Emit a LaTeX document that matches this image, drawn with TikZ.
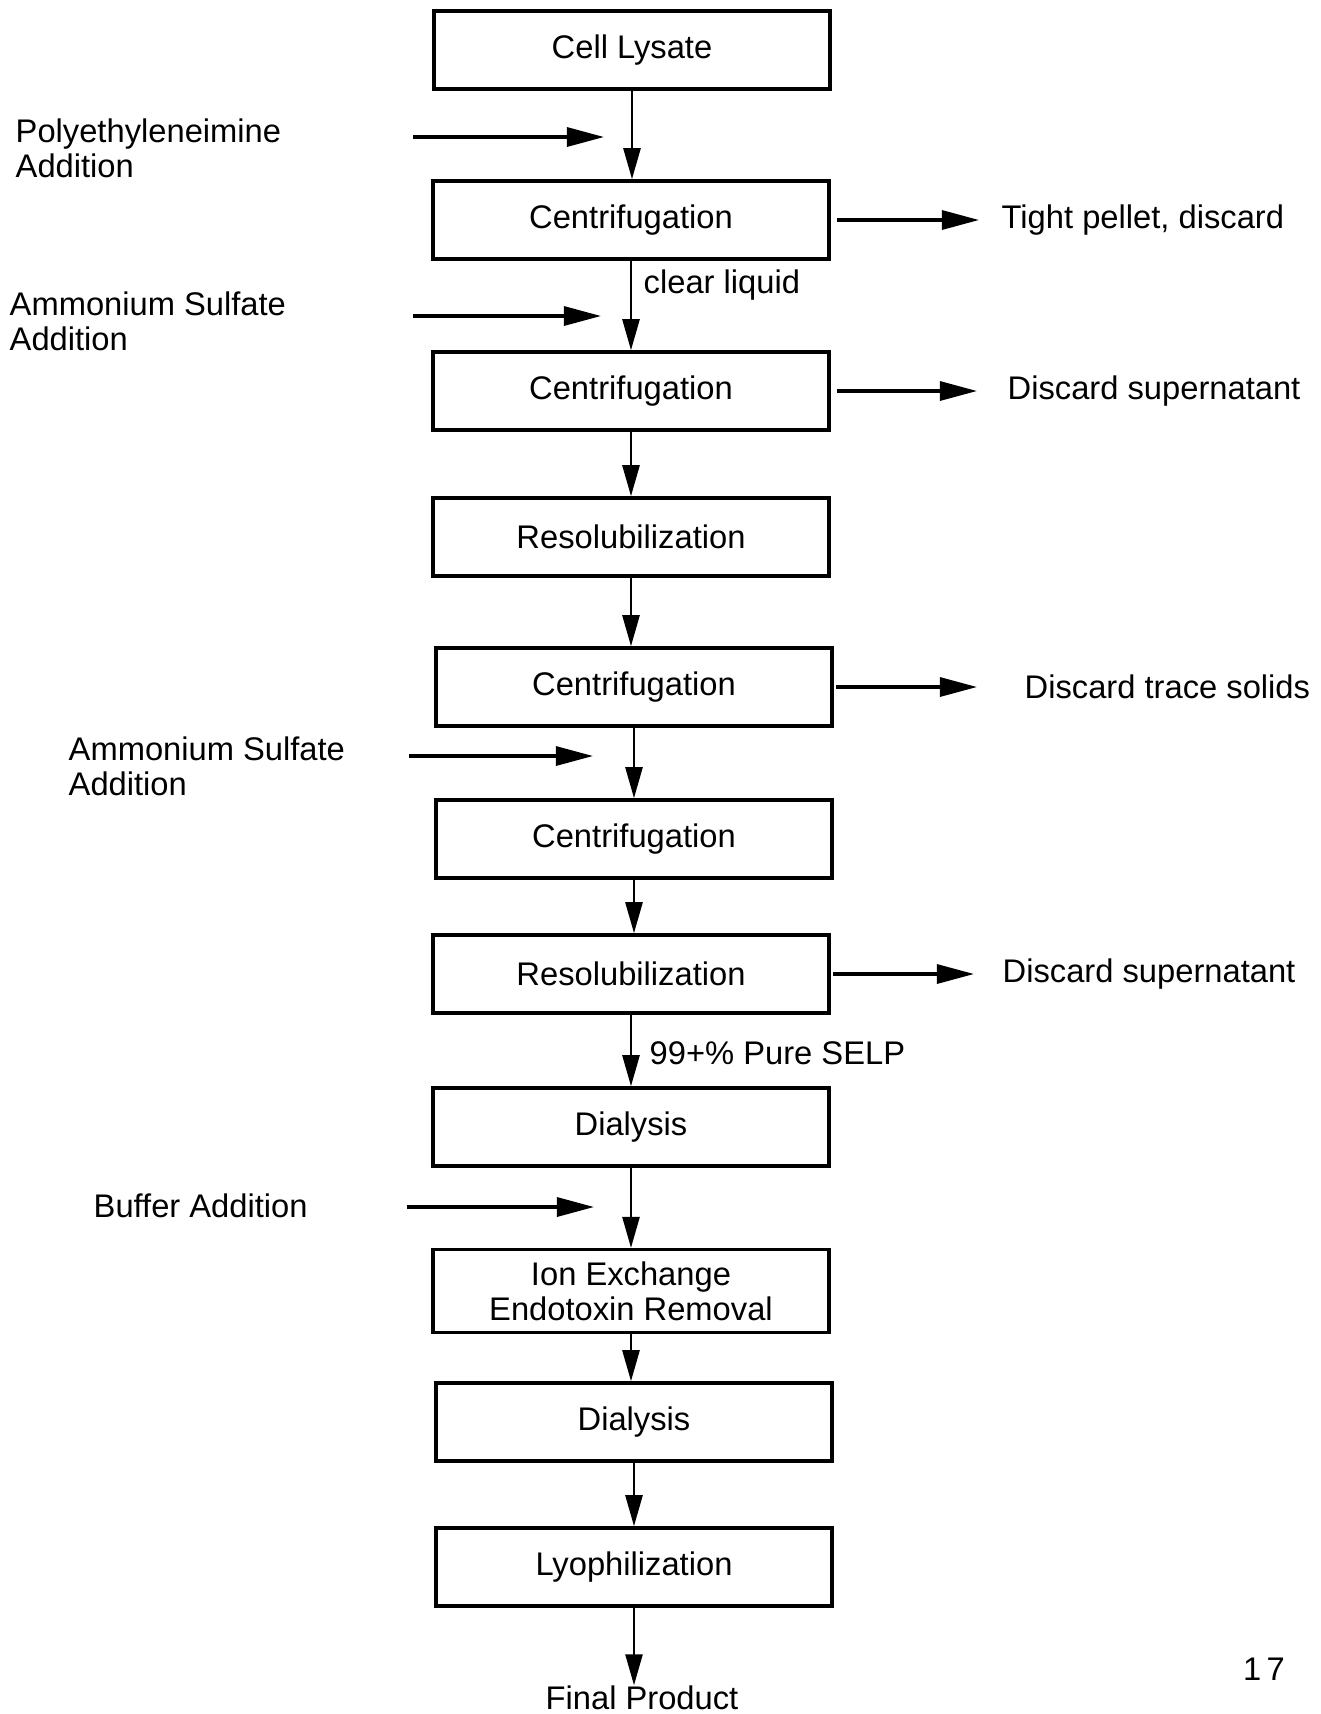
\documentclass[tikz,border=0pt]{standalone}
\usepackage{fontspec}
\setmainfont{Liberation Sans}
\usetikzlibrary{arrows.meta}
\begin{document}
\begin{tikzpicture}[x=0.01cm,y=-0.01cm,
  box/.style={draw,line width=1pt,minimum width=3.96cm,minimum height=0.78cm,
    align=center,font=\fontsize{9.3}{10}\selectfont},
  txt/.style={inner sep=0pt,align=left,font=\fontsize{9.3}{10}\selectfont},
  flow/.style={line width=0.7pt,-{Triangle[length=0.31cm,width=0.17cm]}},
  feed/.style={line width=0.9pt,-{Triangle[length=0.37cm,width=0.19cm]}}]
\useasboundingbox (0,0) rectangle (1321,1714);
% main column
\node[box] (lysate) at (632,50) {Cell Lysate};
\node[box] (cent1) at (631,220) {Centrifugation};
\node[box] (cent2) at (631,391) {Centrifugation};
\node[box] (resol1) at (631,537) {Resolubilization};
\node[box] (cent3) at (634,687) {Centrifugation};
\node[box] (cent4) at (634,839) {Centrifugation};
\node[box] (resol2) at (631,974) {Resolubilization};
\node[box] (dial1) at (631,1127) {Dialysis};
\node[box] (ionex) at (631,1291) {Ion Exchange\\Endotoxin Removal};
\node[box] (dial2) at (634,1422) {Dialysis};
\node[box] (lyo) at (634,1567) {Lyophilization};
\node[txt] (final) at (642,1698) {Final Product};
\draw[flow] (lysate) -- (lysate |- cent1.north);
\draw[flow] (cent1) -- (cent1 |- cent2.north);
\draw[flow] (cent2) -- (cent2 |- resol1.north);
\draw[flow] (resol1) -- (resol1 |- cent3.north);
\draw[flow] (cent3) -- (cent3 |- cent4.north);
\draw[flow] (cent4) -- (cent4 |- resol2.north);
\draw[flow] (resol2) -- (resol2 |- dial1.north);
\draw[flow] (dial1) -- (dial1 |- ionex.north);
\draw[flow] (ionex) -- (ionex |- dial2.north);
\draw[flow] (dial2) -- (dial2 |- lyo.north);
\draw[flow] (lyo) -- (lyo |- final.north);
\node[txt,anchor=west] (clear) at (643,285) {clear liquid};
\node[txt,anchor=west] (pure) at (649,1053) {99+\% Pure SELP};
% additions
\node[txt,anchor=west] (pei) at (15,148) {Polyethyleneimine\\Addition};
\coordinate (pei0) at (413,137);
\coordinate (pei1) at (604,137);
\draw[feed] (pei0) -- (pei1);
\node[txt,anchor=west] (amsa) at (9,321) {Ammonium Sulfate\\Addition};
\coordinate (amsa0) at (413,316);
\coordinate (amsa1) at (601,316);
\draw[feed] (amsa0) -- (amsa1);
\node[txt,anchor=west] (amsb) at (68,766) {Ammonium Sulfate\\Addition};
\coordinate (amsb0) at (409,756);
\coordinate (amsb1) at (593,756);
\draw[feed] (amsb0) -- (amsb1);
\node[txt,anchor=west] (buffer) at (93,1206) {Buffer Addition};
\coordinate (buf0) at (407,1207);
\coordinate (buf1) at (594,1207);
\draw[feed] (buf0) -- (buf1);
% discards
\node[txt,anchor=west] (pellet) at (1001,220) {Tight pellet, discard};
\draw[feed] ([xshift=0.06cm]cent1.east) -- ([xshift=-0.22cm]pellet.west);
\node[txt,anchor=west] (super1) at (1007,391) {Discard supernatant};
\draw[feed] ([xshift=0.06cm]cent2.east) -- ([xshift=-0.3cm]super1.west);
\node[txt,anchor=west] (trace) at (1024,687) {Discard trace solids};
\draw[feed] ([xshift=0.02cm]cent3.east) -- ([xshift=-0.47cm]trace.west);
\node[txt,anchor=west] (super2) at (1002,974) {Discard supernatant};
\draw[feed] ([xshift=0.02cm]resol2.east) -- ([xshift=-0.28cm]super2.west);
\node[txt] (page) at (1264,1669) {1\kern1.5pt7};
\end{tikzpicture}
\end{document}
